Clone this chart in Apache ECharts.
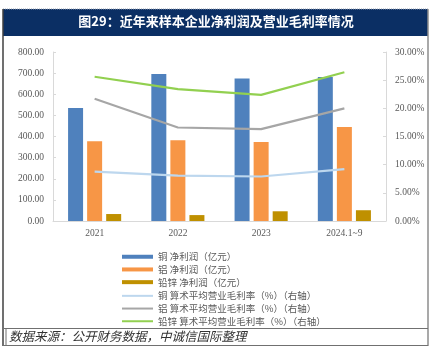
<!DOCTYPE html>
<html>
<head>
<meta charset="utf-8">
<script src="https://cdn.jsdelivr.net/npm/echarts@6/dist/echarts.min.js"></script>
<style>html,body{margin:0;padding:0;background:#fff;}#c{width:432px;height:363px;}</style>
</head>
<body>
<div id="c"></div>
<script>
var categories = ['2021', '2022', '2023', '2024.1~9'];
var copperProfit = [535, 696, 675, 682];
var aluminumProfit = [377, 382, 374, 445];
var leadZincProfit = [33, 28, 46, 51];
var copperMargin = [8.75, 8.05, 7.9, 9.2];
var aluminumMargin = [21.7, 16.6, 16.3, 20.0];
var leadZincMargin = [25.6, 23.4, 22.4, 26.4];
var leftTicks = [0, 800, 100];
var rightTicks = [0, 30, 5];
var names = ['铜 净利润（亿元）', '铝 净利润（亿元）', '铅锌 净利润（亿元）',
  '铜 算术平均营业毛利率（%）（右轴）', '铝 算术平均营业毛利率（%）（右轴）', '铅锌 算术平均营业毛利率（%）（右轴）'];
var colors = ['#4F81BD', '#F79646', '#BF9000', '#BDD7EE', '#A6A6A6', '#92D050'];

var serif = '"Liberation Serif", "Times New Roman", serif';
var cjk = '"Noto Sans CJK SC", sans-serif';
var legends = names.map(function (n, i) {
  return {
    data: [n], left: 122, top: 254 + i * 12.7 - (i < 3 ? 2 : 1) - 0,
    orient: 'vertical', padding: 0,
    itemWidth: 31, itemHeight: i < 3 ? 4 : 2,
    icon: 'rect',
    textStyle: { color: '#595959', fontSize: 9.5, fontFamily: cjk, lineHeight: 4, height: 4 },
    selectedMode: false
  };
});

var chart = echarts.init(document.getElementById('c'), null, { renderer: 'canvas' });
chart.setOption({
  animation: false,
  color: colors,
  grid: { left: 53, right: 46, top: 52, bottom: 142 },
  legend: legends,
  xAxis: {
    type: 'category', data: categories,
    axisLine: { lineStyle: { color: '#D9D9D9', width: 1 } },
    axisTick: { show: false },
    axisLabel: { color: '#595959', fontSize: 9.5, fontFamily: serif, margin: 7 }
  },
  yAxis: [{
    type: 'value', min: leftTicks[0], max: leftTicks[1], interval: leftTicks[2],
    axisLine: { show: true, lineStyle: { color: '#D9D9D9' } },
    axisTick: { show: true, inside: true, length: 3, lineStyle: { color: '#D9D9D9' } },
    splitLine: { show: false },
    axisLabel: { color: '#595959', fontSize: 9.5, fontFamily: serif, margin: 9,
      formatter: function (v) { return v.toFixed(2); } }
  }, {
    type: 'value', min: rightTicks[0], max: rightTicks[1], interval: rightTicks[2],
    position: 'right',
    axisLine: { show: true, lineStyle: { color: '#D9D9D9' } },
    axisTick: { show: true, inside: true, length: 3, lineStyle: { color: '#D9D9D9' } },
    splitLine: { show: false },
    axisLabel: { color: '#595959', fontSize: 9.5, fontFamily: serif, margin: 9,
      formatter: function (v) { return v.toFixed(2) + '%'; } }
  }],
  series: [
    { name: names[0], type: 'bar', data: copperProfit, barWidth: 15, barGap: '27%' },
    { name: names[1], type: 'bar', data: aluminumProfit, barWidth: 15, barGap: '27%' },
    { name: names[2], type: 'bar', data: leadZincProfit, barWidth: 15, barGap: '27%' },
    { name: names[3], type: 'line', yAxisIndex: 1, data: copperMargin, symbol: 'none', lineStyle: { width: 2.2 } },
    { name: names[4], type: 'line', yAxisIndex: 1, data: aluminumMargin, symbol: 'none', lineStyle: { width: 2.2 } },
    { name: names[5], type: 'line', yAxisIndex: 1, data: leadZincMargin, symbol: 'none', lineStyle: { width: 2.2 } }
  ],
  graphic: [
    { type: 'rect', shape: { x: 3, y: 9, width: 425, height: 27 }, style: { fill: '#0B2F64' } },
    { type: 'line', shape: { x1: 3, y1: 9, x2: 428, y2: 9 }, style: { stroke: '#9AA3B5', lineWidth: 1, lineDash: [1, 1] } },
    { type: 'text', left: 'center', top: 15, style: { text: '图29：近年来样本企业净利润及营业毛利率情况',
      fill: '#fff', font: 'bold 13px "Noto Sans CJK SC", sans-serif' } },
    { type: 'line', shape: { x1: 3, y1: 9, x2: 3, y2: 346 }, style: { stroke: '#404040', lineWidth: 1.5 } },
    { type: 'line', shape: { x1: 428, y1: 9, x2: 428, y2: 346 }, style: { stroke: '#8C8C8C', lineWidth: 1.5 } },
    { type: 'line', shape: { x1: 3, y1: 328.5, x2: 428, y2: 328.5 }, style: { stroke: '#707070', lineWidth: 1.2 } },
    { type: 'line', shape: { x1: 3, y1: 345.5, x2: 428, y2: 345.5 }, style: { stroke: '#707070', lineWidth: 1.2 } },
    { type: 'line', shape: { x1: 6, y1: 329, x2: 6, y2: 345 }, style: { stroke: '#707070', lineWidth: 1 } },
    { type: 'text', left: 9, top: 330, style: { text: '数据来源：公开财务数据，中诚信国际整理',
      fill: '#333', font: 'italic 12.5px "Noto Sans CJK SC", sans-serif' } }
  ]
});
</script>
</body>
</html>
